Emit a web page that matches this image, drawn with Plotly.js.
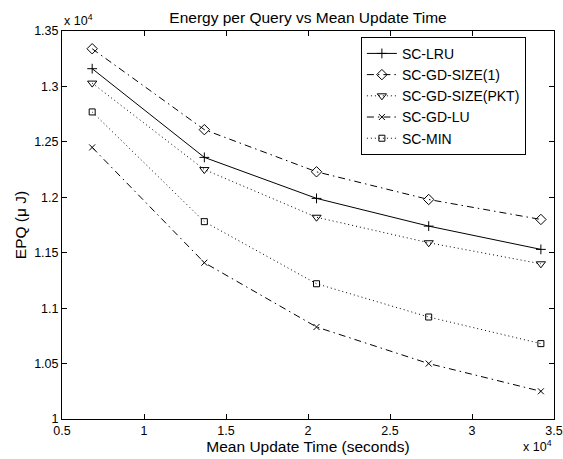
<!DOCTYPE html>
<html>
<head>
<meta charset="utf-8">
<script src="https://cdn.plot.ly/plotly-3.0.1.min.js"></script>
<style>
  html, body { margin: 0; padding: 0; background: #fff; }
  #chart { width: 563px; height: 459px; }
</style>
</head>
<body>
<div id="chart"></div>
<script>
// Mean update time (seconds)
const updateTimes = [6840, 13680, 20520, 27360, 34200];

// Energy per query (µJ)
const scLRU      = [13160, 12360, 11990, 11740, 11530];
const scGdSize1  = [13340, 12610, 12230, 11980, 11800];
const scGdSizePkt= [13030, 12250, 11820, 11590, 11400];
const scGdLU     = [12450, 11410, 10830, 10500, 10250];
const scMin      = [12770, 11780, 11220, 10920, 10680];

const seriesNames = ["SC-LRU", "SC-GD-SIZE(1)", "SC-GD-SIZE(PKT)", "SC-GD-LU", "SC-MIN"];

const xTickVals  = [5000, 10000, 15000, 20000, 25000, 30000, 35000];
const xTickText  = ["0.5", "1", "1.5", "2", "2.5", "3", "3.5"];
const yTickVals  = [10000, 10500, 11000, 11500, 12000, 12500, 13000, 13500];
const yTickText  = ["1", "1.05", "1.1", "1.15", "1.2", "1.25", "1.3", "1.35"];

const FONT = "Liberation Sans, Arial, Helvetica, sans-serif";
const DASHDOT = "7px,4px,1.5px,4px";
const DOTTED = "1px,3px";

function mk(name, y, dash, symbol, size) {
  return {
    type: "scatter",
    mode: "lines+markers",
    name: name,
    x: updateTimes,
    y: y,
    line: { color: "#000", width: 1, dash: dash },
    marker: { symbol: symbol, size: size, color: "#000", line: { color: "#000", width: 1 } }
  };
}

const data = [
  mk(seriesNames[0], scLRU, "solid", "cross-thin-open", 7),
  mk(seriesNames[1], scGdSize1, DASHDOT, "diamond-open", 8),
  mk(seriesNames[2], scGdSizePkt, DOTTED, "triangle-down-open", 8),
  mk(seriesNames[3], scGdLU, DASHDOT, "x-thin-open", 6),
  mk(seriesNames[4], scMin, DOTTED, "square-open", 6)
];

const axisCommon = {
  showline: true, linecolor: "#000", linewidth: 1,
  mirror: "ticks", ticks: "inside", ticklen: 5, tickwidth: 1, tickcolor: "#000",
  showgrid: false, zeroline: false,
  tickfont: { family: FONT, size: 12.5, color: "#000" },
  tickmode: "array"
};

const layout = {
  width: 563, height: 459,
  paper_bgcolor: "#fff", plot_bgcolor: "#fff",
  margin: { l: 62, r: 9, t: 31, b: 40, pad: 0 },
  font: { family: FONT, color: "#000" },
  title: {
    text: "Energy per Query vs Mean Update Time",
    font: { family: FONT, size: 15.5, color: "#000" },
    x: 0.5, xref: "paper", xanchor: "center",
    y: 1, yref: "paper", yanchor: "bottom", pad: { b: 8 }
  },
  xaxis: Object.assign({}, axisCommon, {
    range: [5000, 35000],
    tickvals: xTickVals, ticktext: xTickText,
    title: { text: "Mean Update Time (seconds)", font: { family: FONT, size: 15.5, color: "#000" }, standoff: 4 }
  }),
  yaxis: Object.assign({}, axisCommon, {
    range: [10000, 13500],
    tickvals: yTickVals, ticktext: yTickText,
    title: { text: "EPQ (μ J)", font: { family: FONT, size: 15.5, color: "#000" }, standoff: 3 }
  }),
  showlegend: true,
  legend: {
    x: 0.6075, y: 0.985, xanchor: "left", yanchor: "top",
    bgcolor: "#fff", bordercolor: "#000", borderwidth: 1,
    font: { family: FONT, size: 14, color: "#000" },
    itemwidth: 30, tracegroupgap: 0
  },
  annotations: [
    { text: "x 10<sup>4</sup>", xref: "paper", yref: "paper", x: 0, y: 1,
      xanchor: "left", yanchor: "bottom", yshift: 1, showarrow: false,
      font: { family: FONT, size: 12.5, color: "#000" } },
    { text: "x 10<sup>4</sup>", xref: "paper", yref: "paper", x: 1, y: 0,
      xanchor: "right", yanchor: "bottom", yshift: -37, showarrow: false,
      font: { family: FONT, size: 12.5, color: "#000" } }
  ]
};

Plotly.newPlot("chart", data, layout, { displayModeBar: false, staticPlot: true });
</script>
</body>
</html>
